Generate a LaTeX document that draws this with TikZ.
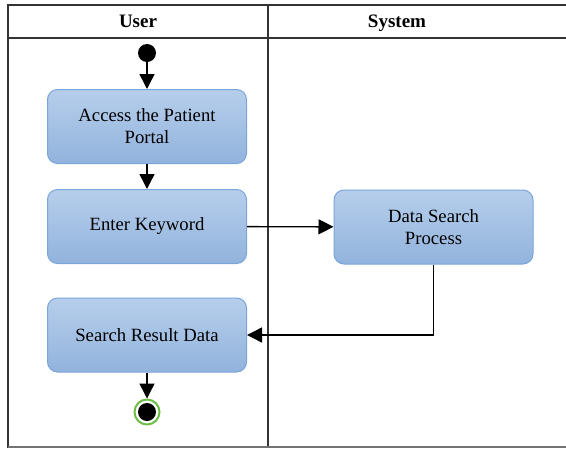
\documentclass[tikz,border=0pt]{standalone}
\usepackage{fontspec}
\setmainfont{Liberation Serif}
\usetikzlibrary{positioning,arrows.meta,shapes}
\definecolor{boxtop}{HTML}{B6CEEB}
\definecolor{boxbot}{HTML}{92B3DD}
\definecolor{boxline}{HTML}{79A5D9}
\definecolor{endgreen}{HTML}{6DBE45}

\begin{document}
\begin{tikzpicture}[x=1pt, y=-1pt,
    box/.style={draw=boxline, line width=1pt, rounded corners=10pt, top color=boxtop, bottom color=boxbot,
        minimum width=199pt, minimum height=74pt, align=center, font=\fontsize{18.7}{22}\selectfont},
    arrow/.style={-{Triangle[length=15pt,width=15pt]}, line width=1.4pt},
    lane/.style={draw=black!80, line width=1.6pt},
    head/.style={anchor=base, font=\fontsize{19}{22}\selectfont\bfseries}
]
    \useasboundingbox (0,0) rectangle (566,448);

    % swimlanes
    \draw[lane] (8,448) -- (8,5) -- (566,5);
    \draw[lane] (8,38) -- (566,38);
    \draw[lane] (268,5) -- (268,448);
    \draw[black!55, line width=1.2pt] (8,447) -- (566,447);
    \node[head] (user) at (138,27.5) {User};
    \node[head] (system) at (397,27.5) {System};

    % activities
    \node[circle, fill, inner sep=0pt, minimum size=18pt] (start) at (147,53) {};
    \node[box] (portal) at (147,126.5) {Access the Patient\\Portal};
    \node[box] (keyword) at (147,226.5) {Enter Keyword};
    \node[box] (search) at (433.5,227) {Data Search\\Process};
    \node[box] (result) at (147,335) {Search Result Data};
    \node[circle, draw=endgreen, line width=2pt, inner sep=0pt, minimum size=25pt] (end) at (147,412) {};
    \fill (end.center) circle (9pt);

    \draw[arrow] (start) -- (portal);
    \draw[arrow] (portal) -- (keyword);
    \draw[arrow] (keyword) -- (search);
    \draw[arrow] (search) |- (result);
    \draw[arrow] (result) -- (end);
\end{tikzpicture}
\end{document}
